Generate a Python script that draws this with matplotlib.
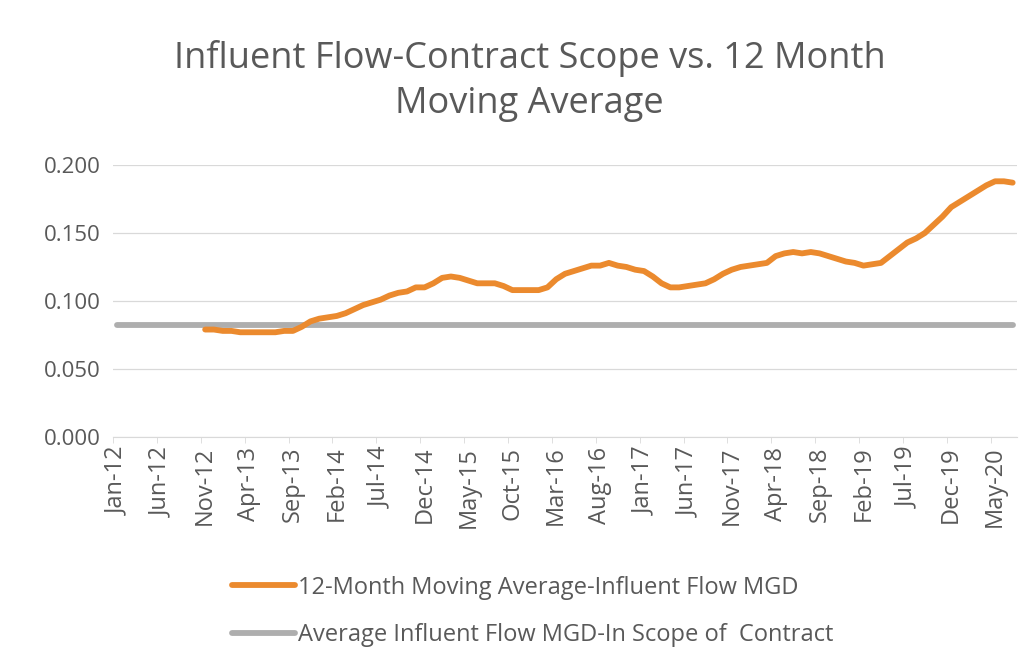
import matplotlib
matplotlib.use("Agg")
import matplotlib.pyplot as plt
import pandas as pd

# month categories Jan-12 .. Jul-20
months = pd.date_range("2012-01-01", "2020-07-01", freq="MS")
month_labels = [d.strftime("%b-%y") for d in months]

# 12-month moving average, starts Nov-12
ma_start = 10
moving_avg = [
    0.079, 0.079, 0.078, 0.078, 0.077, 0.077, 0.077, 0.077, 0.077, 0.078,
    0.078, 0.081, 0.085, 0.087, 0.088, 0.089, 0.091, 0.094, 0.097, 0.099,
    0.101, 0.104, 0.106, 0.107, 0.110, 0.110, 0.113, 0.117, 0.118, 0.117,
    0.115, 0.113, 0.113, 0.113, 0.111, 0.108, 0.108, 0.108, 0.108, 0.110,
    0.116, 0.120, 0.122, 0.124, 0.126, 0.126, 0.128, 0.126, 0.125, 0.123,
    0.122, 0.118, 0.113, 0.110, 0.110, 0.111, 0.112, 0.113, 0.116, 0.120,
    0.123, 0.125, 0.126, 0.127, 0.128, 0.133, 0.135, 0.136, 0.135, 0.136,
    0.135, 0.133, 0.131, 0.129, 0.128, 0.126, 0.127, 0.128, 0.133, 0.138,
    0.143, 0.146, 0.150, 0.156, 0.162, 0.169, 0.173, 0.177, 0.181, 0.185,
    0.188, 0.188, 0.187,
]
avg_in_scope = [0.082] * len(months)

TEXT = "#595959"
ORANGE = "#EB8A2E"
GRAY = "#AEAEAE"
plt.rcParams["font.family"] = ["Open Sans", "DejaVu Sans"]

fig = plt.figure(figsize=(10.32, 6.69), dpi=100)
ax = fig.add_axes([0.1095, 0.3468, 0.876, 0.4066])

x_all = list(range(len(months)))
x_ma = list(range(ma_start, ma_start + len(moving_avg)))
l1, = ax.plot(x_ma, moving_avg, color=ORANGE, lw=4.2, solid_capstyle="round",
              label="12-Month Moving Average-Influent Flow MGD", zorder=3)
l2, = ax.plot(x_all, avg_in_scope, color=GRAY, lw=4.2, solid_capstyle="round",
              label="Average Influent Flow MGD-In Scope of  Contract", zorder=2)

ax.set_xlim(-0.5, len(months) - 0.5)
ax.set_ylim(0, 0.2)
ax.set_yticks([0, 0.05, 0.1, 0.15, 0.2])
ax.set_yticklabels(["0.000", "0.050", "0.100", "0.150", "0.200"])
ax.yaxis.grid(True, color="#D9D9D9", lw=0.9)
ax.set_axisbelow(True)

ax.set_xticks(x_all[::5])
ax.set_xticklabels(month_labels[::5], rotation=90)
ax.set_xticks([i - 0.5 for i in x_all[::5]], minor=True)

for s in ["top", "right", "left"]:
    ax.spines[s].set_visible(False)
ax.spines["bottom"].set_color("#D9D9D9")
ax.tick_params(axis="y", length=0, labelsize=16, labelcolor=TEXT, pad=9)
ax.tick_params(axis="x", which="major", length=0, labelsize=17, labelcolor=TEXT, pad=7)
ax.tick_params(axis="x", which="minor", length=4, color="#D9D9D9")

fig.text(0.513, 0.879, "Influent Flow-Contract Scope vs. 12 Month\nMoving Average",
         ha="center", va="center", fontsize=26, color=TEXT, linespacing=1.35)

fig.legend(handles=[l1, l2], loc="center left", bbox_to_anchor=(0.2248, 0.086),
           bbox_transform=fig.transFigure, frameon=False, fontsize=17,
           labelcolor=TEXT, handlelength=2.67, handletextpad=0.12, labelspacing=1.0,
           borderaxespad=0, borderpad=0)

fig.savefig("out.png", dpi=100, facecolor="white")
